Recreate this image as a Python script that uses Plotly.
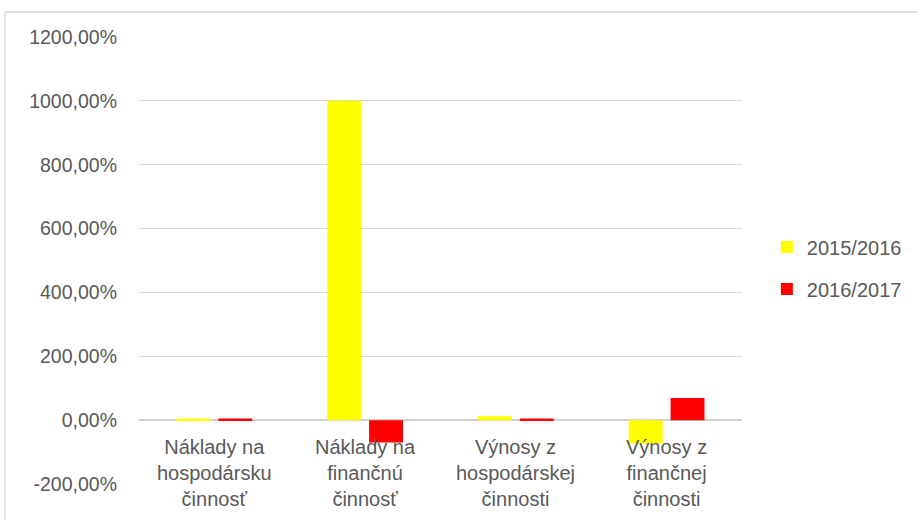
import plotly.graph_objects as go

# Category labels (three lines each, as drawn under the zero line)
categories = ["Náklady na hospodársku činnosť", "Náklady na finančnú činnosť",
              "Výnosy z hospodárskej činnosti", "Výnosy z finančnej činnosti"]
category_labels = ["Náklady na<br>hospodársku<br>činnosť",
                   "Náklady na<br>finančnú<br>činnosť",
                   "Výnosy z<br>hospodárskej<br>činnosti",
                   "Výnosy z<br>finančnej<br>činnosti"]

# Year-over-year change in percent
series_names = ["2015/2016", "2016/2017"]
values_2015_2016 = [5, 1000, 12, -73]
values_2016_2017 = [5, -70, 5, 69]
series_colors = ["#FFFF00", "#FF0000"]

tick_values = [-200, 0, 200, 400, 600, 800, 1000, 1200]
tick_text = ["-200,00%", "0,00%", "200,00%", "400,00%", "600,00%",
             "800,00%", "1000,00%", "1200,00%"]

FONT = "Liberation Sans, Arial, sans-serif"
TEXT_COLOR = "#595959"

fig = go.Figure()
for i, (name, vals) in enumerate(zip(series_names, [values_2015_2016, values_2016_2017])):
    fig.add_trace(go.Bar(
        x=categories, y=vals, name=name,
        marker=dict(color=series_colors[i], line=dict(width=0)),
        legendgroup=name,
    ))

# Category labels placed just beneath the zero line
for cat, lab in zip(categories, category_labels):
    fig.add_annotation(
        x=cat, y=0, xref="x", yref="y", text=lab, showarrow=False,
        yanchor="top", yshift=-14,
        font=dict(family=FONT, size=20, color=TEXT_COLOR),
        align="center",
    )

# Chart-area frame
fig.add_shape(type="rect", xref="paper", yref="paper",
              x0=-0.172, x1=1.02, y0=-0.2, y1=1.056,
              line=dict(color="#D9D9D9", width=1.5), fillcolor="rgba(0,0,0,0)",
              layer="below")

fig.update_layout(
    width=918, height=520,
    margin=dict(l=139, r=0, t=37, b=36),
    paper_bgcolor="white", plot_bgcolor="white",
    barmode="group", bargap=0.445, bargroupgap=0.19,
    font=dict(family=FONT, size=19, color=TEXT_COLOR),
    showlegend=True,
    legend=dict(
        x=0.806, y=0.483, xanchor="left", yanchor="middle",
        font=dict(family=FONT, size=20, color=TEXT_COLOR),
        traceorder="grouped", tracegroupgap=13,
        bgcolor="rgba(0,0,0,0)", borderwidth=0,
    ),
    xaxis=dict(domain=[0, 603 / 779], showticklabels=False, showgrid=False,
               zeroline=False, showline=False, ticks=""),
    yaxis=dict(range=[-200, 1200], tickvals=tick_values, ticktext=tick_text,
               showgrid=True, gridcolor="#D9D9D9", gridwidth=1,
               zeroline=True, zerolinecolor="#D0D0D0", zerolinewidth=1.5,
               showline=False, ticks="", ticklabelstandoff=21,
               tickfont=dict(family=FONT, size=19.5, color=TEXT_COLOR)),
)

fig.write_html("out.html")
